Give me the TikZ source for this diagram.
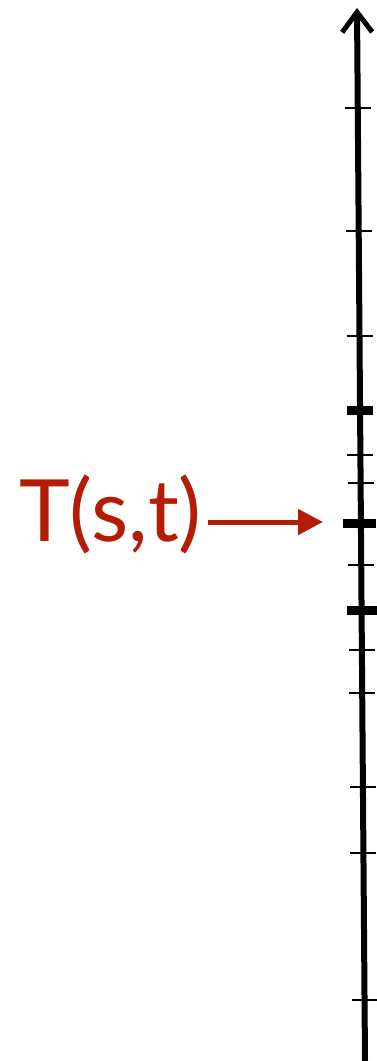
\documentclass[tikz,border=0pt]{standalone}
\usepackage{fontspec}
\setmainfont{Lato}
\usetikzlibrary{arrows.meta}
\definecolor{tred}{RGB}{181,28,4}

\begin{document}
\begin{tikzpicture}[x=1pt,y=-1pt]
\useasboundingbox (0,0) rectangle (376,1061);
\coordinate (bot) at (365,1061);
\coordinate (top) at (357,8);
\draw[line width=6pt,-{Straight Barb[length=20pt,width=30pt,line width=5pt]}] (bot)--(top);
\foreach \y in {108,231,336,455,483,565,650,693,787,853,1000}{
  \pgfmathsetmacro{\cx}{365-8*(1061-\y)/1055}
  \draw[line width=2.6pt] (\cx-13,\y)--(\cx+13,\y);
}
\foreach \y/\l/\r in {410/13/13,523/18/15,610/15/15}{
  \pgfmathsetmacro{\cx}{365-8*(1061-\y)/1055}
  \draw[line width=9pt] (\cx-\l,\y)--(\cx+\r,\y);
}
\node[tred,inner xsep=6pt,inner ysep=0pt,anchor=base east,font=\fontsize{86}{100}\selectfont] (lbl) at (208,541) {T(s,t)};
\coordinate (hit) at (323,522);
\draw[tred,line width=5pt,-{Triangle[length=25pt,width=25pt]}] (lbl.east |- hit)--(hit);
\end{tikzpicture}
\end{document}
